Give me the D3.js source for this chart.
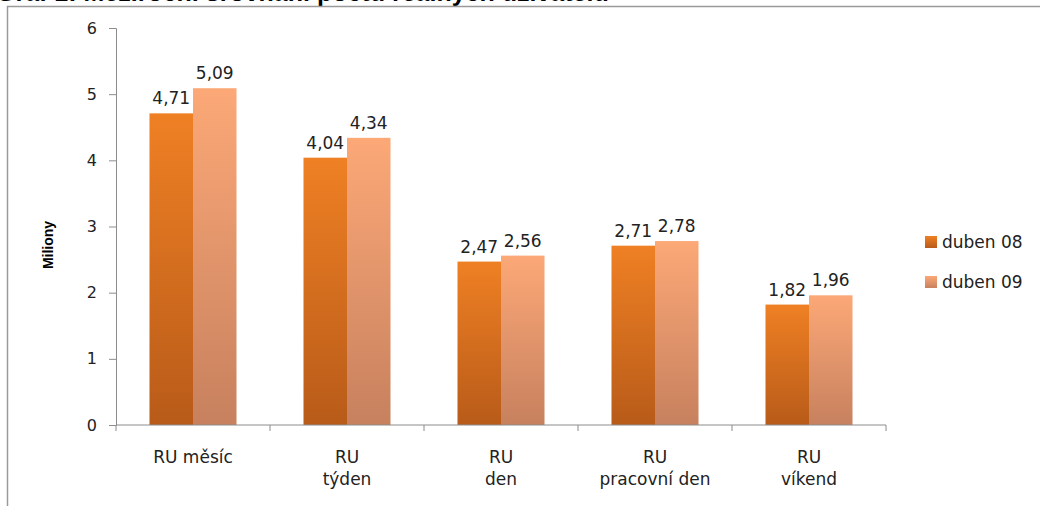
<!DOCTYPE html>
<html>
<head>
<meta charset="utf-8">
<script src="https://cdn.jsdelivr.net/npm/d3@7"></script>
<style>
  body { margin: 0; background: #fff; }
  svg { display: block; }
  text { font-family: "DejaVu Sans", sans-serif; fill: #222; }
</style>
</head>
<body>
<div id="chart"></div>
<script>
// data
var categories = [["RU měsíc"], ["RU", "týden"], ["RU", "den"], ["RU", "pracovní den"], ["RU", "víkend"]];
var series = ["duben 08", "duben 09"];
var duben08 = [4.71, 4.04, 2.47, 2.71, 1.82];
var duben09 = [5.09, 4.34, 2.56, 2.78, 1.96];
var yTicks = [0, 1, 2, 3, 4, 5, 6];

var width = 1040, height = 506;
var plot = { left: 116, right: 886, top: 28, bottom: 425 };

var svg = d3.select("#chart").append("svg")
  .attr("width", width)
  .attr("height", height);

// gradients for the two series
var defs = svg.append("defs");
var grads = [["#ef8024", "#b85b19"], ["#fca877", "#c7815e"]];
grads.forEach(function(c, i) {
  var g = defs.append("linearGradient")
    .attr("id", "grad" + i)
    .attr("x1", 0).attr("y1", 0).attr("x2", 0).attr("y2", 1);
  g.append("stop").attr("offset", "0%").attr("stop-color", c[0]);
  g.append("stop").attr("offset", "100%").attr("stop-color", c[1]);
});

// title, mostly cut off by the top edge
svg.append("text")
  .attr("x", -4)
  .attr("y", 1)
  .style("font-family", "Liberation Sans, Arial, sans-serif")
  .style("font-weight", "bold")
  .style("font-size", "25px")
  .style("fill", "#000")
  .text("Graf 1: Meziroční srovnání počtu reálných uživatelů");

// frame
svg.append("rect")
  .attr("x", 7.5).attr("y", 6.5)
  .attr("width", 1100).attr("height", 600)
  .attr("fill", "none")
  .attr("stroke", "#9a9a9a")
  .attr("stroke-width", 1.5);

var x = d3.scaleBand()
  .domain(d3.range(categories.length))
  .range([plot.left, plot.right])
  .paddingInner(0).paddingOuter(0);

var xs = d3.scaleBand()
  .domain([0, 1])
  .range([0, x.bandwidth()])
  .paddingInner(0).paddingOuter(0.77);

var y = d3.scaleLinear()
  .domain([0, 6])
  .range([plot.bottom, plot.top]);

// y axis
var yAxis = svg.append("g")
  .attr("transform", "translate(" + plot.left + ",0)")
  .call(d3.axisLeft(y).tickValues(yTicks).tickSize(7).tickPadding(12).tickFormat(d3.format("d")));
yAxis.select(".domain").attr("stroke", "#8c8c8c");
yAxis.selectAll(".tick line").attr("stroke", "#8c8c8c");
yAxis.selectAll(".tick text")
  .style("font-size", "16px")
  .style("fill", "#222");

// bars
var values = [duben08, duben09];
values.forEach(function(vals, s) {
  svg.append("g").selectAll("rect")
    .data(vals)
    .enter().append("rect")
    .attr("x", function(d, i) { return x(i) + xs(s); })
    .attr("width", xs.bandwidth())
    .attr("y", function(d) { return y(d); })
    .attr("height", function(d) { return y(0) - y(d); })
    .attr("fill", "url(#grad" + s + ")");

  svg.append("g").selectAll("text")
    .data(vals)
    .enter().append("text")
    .attr("x", function(d, i) { return x(i) + xs(s) + xs.bandwidth() / 2; })
    .attr("y", function(d) { return y(d) - 9; })
    .attr("text-anchor", "middle")
    .style("font-size", "17px")
    .text(function(d) { return d.toFixed(2).replace(".", ","); });
});

// x axis
var xAxis = svg.append("g")
  .attr("transform", "translate(0," + plot.bottom + ")");
xAxis.append("line")
  .attr("x1", plot.left).attr("x2", plot.right)
  .attr("stroke", "#8c8c8c");
xAxis.selectAll("line.tick")
  .data(d3.range(categories.length + 1))
  .enter().append("line")
  .attr("class", "tick")
  .attr("x1", function(d) { return plot.left + d * x.step(); })
  .attr("x2", function(d) { return plot.left + d * x.step(); })
  .attr("y1", 0).attr("y2", 6)
  .attr("stroke", "#8c8c8c");

var catLabels = svg.append("g").selectAll("text")
  .data(categories)
  .enter().append("text")
  .attr("text-anchor", "middle")
  .attr("transform", function(d, i) { return "translate(" + (x(i) + x.bandwidth() / 2) + ",463)"; })
  .style("font-size", "17px");
catLabels.selectAll("tspan")
  .data(function(d) { return d; })
  .enter().append("tspan")
  .attr("x", 0)
  .attr("dy", function(d, i) { return i === 0 ? 0 : 22; })
  .text(function(d) { return d; });

// y axis title
svg.append("text")
  .attr("transform", "translate(53,245) rotate(-90)")
  .attr("text-anchor", "middle")
  .style("font-family", "Liberation Sans, Arial, sans-serif")
  .style("font-weight", "bold")
  .style("font-size", "14px")
  .style("fill", "#000")
  .text("Miliony");

// legend
var legend = svg.append("g").selectAll("g")
  .data(series)
  .enter().append("g")
  .attr("transform", function(d, i) { return "translate(925," + (236 + i * 40) + ")"; });
legend.append("rect")
  .attr("width", 12).attr("height", 12)
  .attr("fill", function(d, i) { return "url(#grad" + i + ")"; });
legend.append("text")
  .attr("x", 17).attr("y", 12)
  .style("font-size", "17px")
  .text(function(d) { return d; });
</script>
</body>
</html>
